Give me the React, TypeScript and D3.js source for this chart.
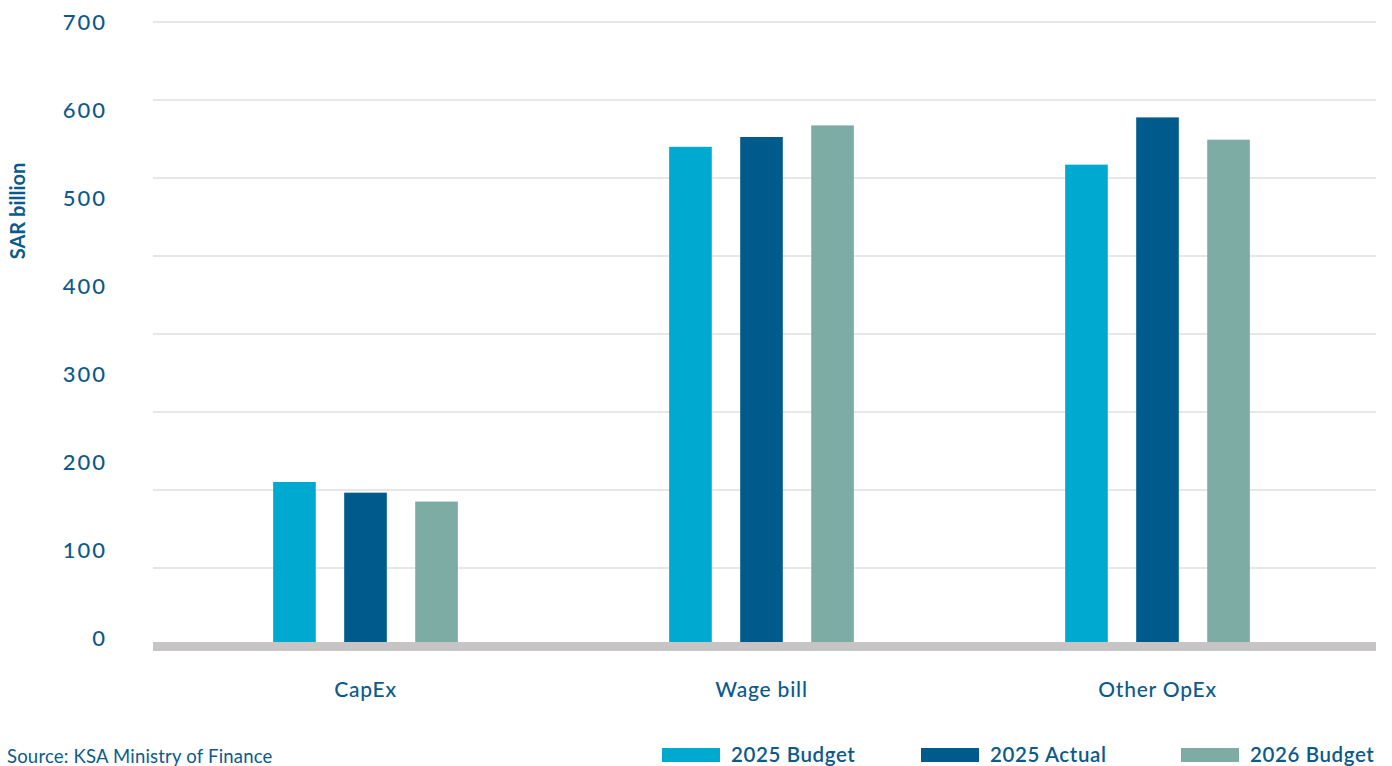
import React from "react";
import * as d3 from "d3";

const categories = ["CapEx", "Wage bill", "Other OpEx"];
const seriesNames = ["2025 Budget", "2025 Actual", "2026 Budget"];
const budget2025 = [184, 560, 540];
const actual2025 = [172, 571, 593];
const budget2026 = [162, 584, 568];
const tickValues = [0, 100, 200, 300, 400, 500, 600, 700];
const colors = ["#00a9cf", "#005b8d", "#7caca4"];

const W = 1392;
const H = 766;
const textColor = "#0c5a8b";
const font = "Lato, 'Open Sans', sans-serif";

export default function App() {
  const series = [budget2025, actual2025, budget2026];

  const y = d3.scaleLinear().domain([0, 700]).range([646, 22]);
  // tick labels sit on a slightly tighter spacing than the value scale
  const yLabel = d3.scaleLinear().domain([0, 700]).range([637, 21]);
  const gridValues = d3.range(0, 9).map((i) => (700 * i) / 8);

  const x0 = d3.scaleBand<string>().domain(categories).range([167.5, 1355.5]);
  const groupWidth = 184.7;
  const x1 = d3
    .scaleBand<string>()
    .domain(seriesNames)
    .range([0, groupWidth])
    .paddingInner(0.4)
    .paddingOuter(0);

  const legendX = [662, 921, 1181];

  return (
    <svg
      width={W}
      height={H}
      style={{ position: "absolute", left: 0, top: 0, background: "#fff" }}
      fontFamily={font}
    >
      {/* gridlines */}
      {gridValues.slice(1).map((v) => (
        <line
          key={v}
          x1={153}
          x2={1376}
          y1={y(v)}
          y2={y(v)}
          stroke="#cfcfcf"
          strokeWidth={1}
        />
      ))}

      {/* tick labels */}
      {tickValues.map((v) => (
        <text
          key={v}
          x={107}
          y={yLabel(v)}
          textAnchor="end"
          dominantBaseline="central"
          fontSize={22}
          letterSpacing={2}
          fontWeight={500}
          fill={textColor}
        >
          {v}
        </text>
      ))}

      {/* axis title */}
      <text
        transform={`translate(25,211) rotate(-90)`}
        textAnchor="middle"
        fontSize={20}
        fontWeight={700}
        fill={textColor}
      >
        SAR billion
      </text>

      {/* bars */}
      {categories.map((c, ci) => {
        const cx = x0(c)! + x0.bandwidth() / 2 - groupWidth / 2;
        return (
          <g key={c}>
            {seriesNames.map((s, si) => (
              <rect
                key={s}
                x={cx + x1(s)!}
                y={y(series[si][ci])}
                width={x1.bandwidth()}
                height={y(0) - y(series[si][ci])}
                fill={colors[si]}
              />
            ))}
          </g>
        );
      })}

      {/* baseline */}
      <rect x={153} y={642} width={1223} height={9} fill="#c6c4c4" />

      {/* category labels */}
      {categories.map((c) => (
        <text
          key={c}
          x={x0(c)! + x0.bandwidth() / 2}
          y={688}
          textAnchor="middle"
          dominantBaseline="central"
          fontSize={21}
          letterSpacing={0.8}
          fontWeight={500}
          fill={textColor}
        >
          {c}
        </text>
      ))}

      {/* source */}
      <text
        x={7}
        y={756}
        dominantBaseline="central"
        fontSize={18.5}
        letterSpacing={0.2}
        fill={textColor}
      >
        Source: KSA Ministry of Finance
      </text>

      {/* legend */}
      {seriesNames.map((s, i) => (
        <g key={s}>
          <rect x={legendX[i]} y={748} width={58} height={14} fill={colors[i]} />
          <text
            x={legendX[i] + 69}
            y={754}
            dominantBaseline="central"
            fontSize={20.5}
            letterSpacing={0.6}
            fontWeight={600}
            fill={textColor}
          >
            {s}
          </text>
        </g>
      ))}
    </svg>
  );
}
